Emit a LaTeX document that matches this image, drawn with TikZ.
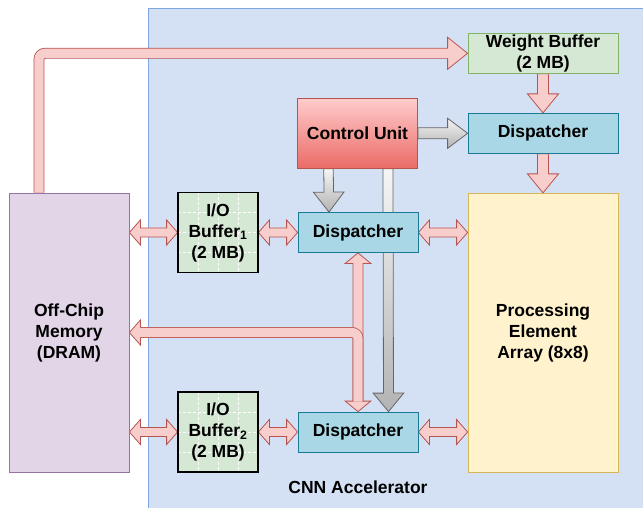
\documentclass[tikz,border=0pt]{standalone}
\usepackage{fontspec}
\setmainfont{Liberation Sans}
\usetikzlibrary{calc}
\definecolor{bgfill}{HTML}{D4E1F5}
\definecolor{bgline}{HTML}{7EA6E0}
\definecolor{pkfill}{HTML}{F8CECC}
\definecolor{pkline}{HTML}{B85450}
\definecolor{gytop}{HTML}{F5F5F5}
\definecolor{gybot}{HTML}{B3B3B3}
\definecolor{gyline}{HTML}{666666}
\definecolor{grfill}{HTML}{D5E8D4}
\definecolor{grline}{HTML}{82B366}
\definecolor{blfill}{HTML}{A9D7E5}
\definecolor{blline}{HTML}{1A7A96}
\definecolor{yefill}{HTML}{FFF2CC}
\definecolor{yeline}{HTML}{D6B656}
\definecolor{pufill}{HTML}{E1D5E7}
\definecolor{puline}{HTML}{9673A6}
\definecolor{cutop}{HTML}{FFCCCC}
\definecolor{cubot}{HTML}{EA6B66}
\tikzset{
  lbltext/.style={font=\bfseries\fontsize{17.5}{21}\selectfont},
  box/.style={rectangle, inner sep=0pt, align=center, line width=0.8pt, lbltext},
  gridln/.style={draw=white, line width=0.6pt, dash pattern=on 3pt off 2pt},
  iobox/.style={box, fill=grfill, draw=black, line width=1.5pt, minimum width=80pt, minimum height=80pt,
    path picture={\foreach \k in {20,40,60}{
      \draw[gridln] ([xshift=\k pt]path picture bounding box.north west) -- ([xshift=\k pt]path picture bounding box.south west);
      \draw[gridln] ([yshift=-\k pt]path picture bounding box.north west) -- ([yshift=-\k pt]path picture bounding box.north east);}}},
  dispbox/.style={box, fill=blfill, draw=blline, minimum width=120pt, minimum height=40pt},
  pkarrow/.style={draw=pkline, fill=pkfill, line width=0.8pt},
  gyarrow/.style={draw=gyline, line width=0.8pt, top color=gytop, bottom color=gybot},
  pkshaft/.style={draw=pkline, line width=0.8pt, double=pkfill, double distance=9.2pt}
}
% single-headed flex arrow: style, from, to, half shaft, half head, head length
\newcommand\flexsingle[6]{%
  \coordinate (fa) at #2; \coordinate (fb) at #3;
  \coordinate (fp) at ($(fb)!#6pt!(fa)$);
  \path[#1] ($(fa)!#4pt!90:(fb)$) -- ($(fp)!#4pt!90:(fb)$) -- ($(fp)!#5pt!90:(fb)$) -- (fb)
    -- ($(fp)!#5pt!-90:(fb)$) -- ($(fp)!#4pt!-90:(fb)$) -- ($(fa)!#4pt!-90:(fb)$) -- cycle;}
% double-headed flex arrow
\newcommand\flexdouble[6]{%
  \coordinate (fa) at #2; \coordinate (fb) at #3;
  \coordinate (fp) at ($(fa)!#6pt!(fb)$); \coordinate (fq) at ($(fb)!#6pt!(fa)$);
  \path[#1] (fa) -- ($(fp)!#5pt!90:(fb)$) -- ($(fp)!#4pt!90:(fb)$) -- ($(fq)!#4pt!90:(fb)$)
    -- ($(fq)!#5pt!90:(fb)$) -- (fb) -- ($(fq)!#5pt!-90:(fb)$) -- ($(fq)!#4pt!-90:(fb)$)
    -- ($(fp)!#4pt!-90:(fb)$) -- ($(fp)!#5pt!-90:(fb)$) -- cycle;}
% open head for bent shafts: style, tip, angle, length, half head, half shaft
\newcommand\flexhead[6]{%
  \begin{scope}[shift={#2}, rotate=#3]
    \path[#1] (-#4,#6) -- (-#4,#5) -- (0,0) -- (-#4,-#5) -- (-#4,-#6);
  \end{scope}}
\begin{document}
\begin{tikzpicture}[x=1pt,y=1pt]
\useasboundingbox (0,0) rectangle (643,507);
\clip (0,0) rectangle (643,507);
\fill[white] (0,0) rectangle (643,507);
% accelerator background
\path[fill=bgfill, draw=bgline, line width=0.8pt] (148,499) rectangle (700,-20);

% node centres
\path (69,174.5) coordinate (omc) (218,274.5) coordinate (b1c) (218,75) coordinate (b2c)
      (358,274.5) coordinate (d2c) (358,75) coordinate (d3c) (357.5,373.7) coordinate (cuc)
      (543,373.7) coordinate (d1c) (543,453.7) coordinate (wbc) (543,174.2) coordinate (pec);

% nodes first placed invisibly to get anchors for the connectors
\node[box, minimum width=120pt, minimum height=279pt] (om) at (omc) {};
\node[box, minimum width=80pt, minimum height=80pt] (b1) at (b1c) {};
\node[box, minimum width=80pt, minimum height=80pt] (b2) at (b2c) {};
\node[box, minimum width=120pt, minimum height=40pt] (d2) at (d2c) {};
\node[box, minimum width=120pt, minimum height=40pt] (d3) at (d3c) {};
\node[box, minimum width=120pt, minimum height=70pt] (cu) at (cuc) {};
\node[box, minimum width=150pt, minimum height=40pt] (d1) at (d1c) {};
\node[box, minimum width=150pt, minimum height=40pt] (wb) at (wbc) {};
\node[box, minimum width=150pt, minimum height=279pt] (pe) at (pec) {};

% gray control arrows
\flexsingle{gyarrow}{(cu.east)}{(d1.west)}{5.5}{15}{20}
\flexsingle{gyarrow}{($(cu.south)+(-29,0)$)}{($(d2.north)+(-29,0)$)}{4.75}{15.3}{20}
\flexsingle{gyarrow}{($(cu.south)+(30.5,0)$)}{($(d3.north)+(30.5,0)$)}{5}{15.3}{18.5}

% off-chip memory to weight buffer
\draw[pkshaft, rounded corners=6pt] ($(om.north)+(-30,0)$) |- ($(wb.west)+(-19.5,0)$);
\flexhead{pkarrow}{(wb.west)}{0}{20}{16}{5}

% weight path
\flexsingle{pkarrow}{(wb.south)}{(d1.north)}{5.5}{15.5}{19}
\flexsingle{pkarrow}{(d1.south)}{(pe.north)}{5.5}{15.5}{19}

% data paths
\flexdouble{pkarrow}{(om.east |- b1.west)}{(b1.west)}{4.5}{12.5}{11}
\flexdouble{pkarrow}{(b1.east)}{(d2.west)}{4.5}{12.5}{11}
\flexdouble{pkarrow}{(d2.east)}{(pe.west |- d2.east)}{4.5}{12.5}{11}
\flexdouble{pkarrow}{(om.east |- b2.west)}{(b2.west)}{4.5}{12.5}{11}
\flexdouble{pkarrow}{(b2.east)}{(d3.west)}{4.5}{12.5}{11}
\flexdouble{pkarrow}{(d3.east)}{(pe.west |- d3.east)}{4.5}{12.5}{11}
\flexdouble{pkarrow}{(d2.south)}{(d3.north)}{5}{12.8}{10.5}
\draw[pkshaft, rounded corners=6pt] ($(d3.north)+(0,10)$) |- ($(om.east)+(10.5,0)$);
\flexhead{pkarrow}{(om.east)}{180}{11}{12.5}{5}

% visible nodes
\node[box, fill=pufill, draw=puline, minimum width=120pt, minimum height=279pt] (om) at (omc) {Off-Chip\\Memory\\(DRAM)};
\node[iobox] (b1) at (b1c) {I/O\\Buffer\textsubscript{1}\\(2 MB)};
\node[iobox] (b2) at (b2c) {I/O\\Buffer\textsubscript{2}\\(2 MB)};
\node[dispbox] (d2) at (d2c) {Dispatcher};
\node[dispbox] (d3) at (d3c) {Dispatcher};
\node[box, top color=cutop, bottom color=cubot, draw=pkline, minimum width=120pt, minimum height=70pt] (cu) at (cuc) {Control Unit};
\node[box, fill=blfill, draw=blline, minimum width=150pt, minimum height=40pt] (d1) at (d1c) {Dispatcher};
\node[box, fill=grfill, draw=grline, minimum width=150pt, minimum height=40pt] (wb) at (wbc) {Weight Buffer\\(2 MB)};
\node[box, fill=yefill, draw=yeline, minimum width=150pt, minimum height=279pt] (pe) at (pec) {Processing\\Element\\Array (8x8)};
\node[lbltext] (lbl) at (358,20) {CNN Accelerator};
\end{tikzpicture}
\end{document}
